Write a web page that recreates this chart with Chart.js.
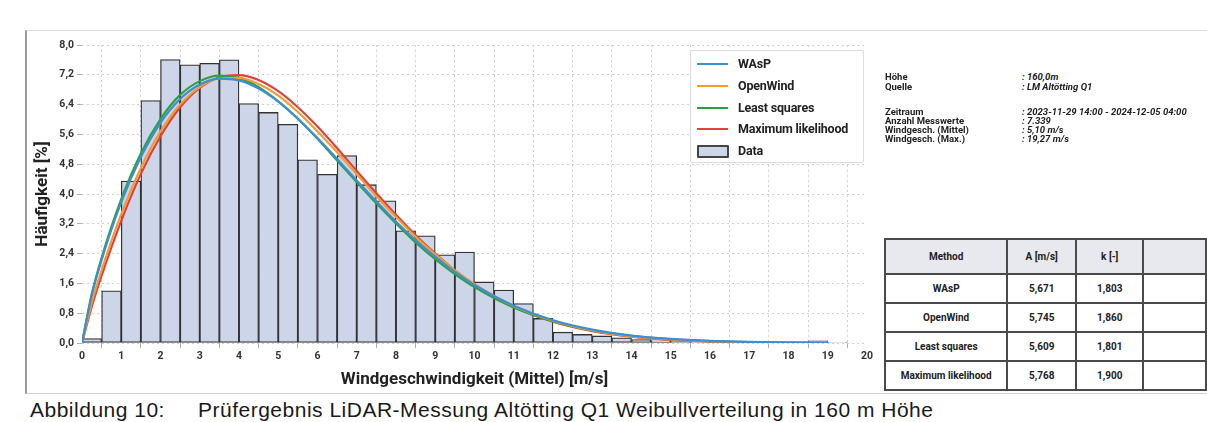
<!DOCTYPE html>
<html lang="de">
<head>
<meta charset="utf-8">
<title>Weibullverteilung Altötting Q1</title>
<script src="https://cdn.jsdelivr.net/npm/chart.js@4.4.0/dist/chart.umd.min.js"></script>
<style>
  html, body { margin: 0; padding: 0; background: #fff; }
  body { width: 1207px; height: 422px; position: relative; overflow: hidden; font-family: Roboto, "Noto Sans", sans-serif; }
  #frame { position: absolute; left: 25px; top: 30px; width: 1200px; height: 362px;
           border-left: 2px solid #9a9a9a; border-top: 1px solid #dcdcdc; border-bottom: 1px solid #cfcfcf; }
  #weibullChart { position: absolute; left: 30px; top: 35px; }
  #legend { position: absolute; left: 690px; top: 50px; width: 172px; height: 111px;
            border: 1px solid #dddddd; border-radius: 2px; background: #fff; }
  #legend .item { position: absolute; left: 6px; height: 16px; font-weight: bold; font-size: 12.5px; color: #222; }
  #legend .swatch { position: absolute; left: 0; top: 7px; width: 31px; height: 2px; }
  #legend .box { position: absolute; left: 0; top: 2px; width: 28px; height: 9px; background: #cdd5e8; border: 2px solid #444; border-radius: 1px; }
  #legend .label { position: absolute; left: 41px; top: 0; white-space: nowrap; letter-spacing: -0.2px; }
  .info { position: absolute; font-size: 9.5px; font-weight: bold; color: #222; white-space: nowrap; line-height: 10px; }
  .info.val { font-style: italic; }
  #params { position: absolute; left: 884px; top: 238px; border-collapse: collapse; }
  #params td, #params th { border: 2px solid #4a4a4a; font-size: 10px; font-weight: bold; color: #222; text-align: center; padding: 0; }
  #params th { background: #e8e9ee; height: 33px; }
  #params td { height: 27px; }
  .caption { position: absolute; top: 398px; font-family: "Liberation Sans", Arial, sans-serif; font-size: 21px; letter-spacing: 0.5px; color: #1a1a1a; white-space: nowrap; }
</style>
</head>
<body>
<div id="frame"></div>
<canvas id="weibullChart" width="845" height="357"></canvas>

<div id="legend">
  <div class="item" style="top:5px"><span class="swatch" style="background:#3b8fd4"></span><span class="label">WAsP</span></div>
  <div class="item" style="top:27px"><span class="swatch" style="background:#f59b2f"></span><span class="label">OpenWind</span></div>
  <div class="item" style="top:49px"><span class="swatch" style="background:#2ea043"></span><span class="label">Least squares</span></div>
  <div class="item" style="top:70px"><span class="swatch" style="background:#e0413a"></span><span class="label">Maximum likelihood</span></div>
  <div class="item" style="top:92px"><span class="box"></span><span class="label">Data</span></div>
</div>

<div class="info" style="left:885px;top:72px">Höhe</div>
<div class="info val" style="left:1022px;top:72px">: 160,0m</div>
<div class="info" style="left:885px;top:82px">Quelle</div>
<div class="info val" style="left:1022px;top:82px">: LM Altötting Q1</div>
<div class="info" style="left:885px;top:107px">Zeitraum</div>
<div class="info val" style="left:1022px;top:107px">: 2023-11-29 14:00 - 2024-12-05 04:00</div>
<div class="info" style="left:885px;top:116px">Anzahl Messwerte</div>
<div class="info val" style="left:1022px;top:116px">: 7.339</div>
<div class="info" style="left:885px;top:125px">Windgesch. (Mittel)</div>
<div class="info val" style="left:1022px;top:125px">: 5,10 m/s</div>
<div class="info" style="left:885px;top:134px">Windgesch. (Max.)</div>
<div class="info val" style="left:1022px;top:134px">: 19,27 m/s</div>

<table id="params">
  <thead><tr><th style="width:144px">Method</th><th style="width:80px">A [m/s]</th><th style="width:78px">k [-]</th><th style="width:80px"></th></tr></thead>
  <tbody id="paramRows"></tbody>
</table>

<div class="caption" style="left:30px">Abbildung 10:</div>
<div class="caption" style="left:198px">Prüfergebnis LiDAR-Messung Altötting Q1 Weibullverteilung in 160 m Höhe</div>

<script>
// histogram bins (centre of each 0,5 m/s bin) and measured frequency [%]
const binCenters = [0.25, 0.75, 1.25, 1.75, 2.25, 2.75, 3.25, 3.75, 4.25, 4.75,
                    5.25, 5.75, 6.25, 6.75, 7.25, 7.75, 8.25, 8.75, 9.25, 9.75,
                    10.25, 10.75, 11.25, 11.75, 12.25, 12.75, 13.25, 13.75, 14.25, 14.75,
                    15.25, 15.75, 16.25, 16.75, 17.25, 17.75, 18.25, 18.75, 19.25];
const frequency = [0.12, 1.40, 4.35, 6.51, 7.61, 7.47, 7.51, 7.60, 6.43, 6.19,
                   5.87, 4.92, 4.53, 5.03, 4.25, 3.82, 3.01, 2.88, 2.37, 2.44,
                   1.64, 1.42, 1.06, 0.66, 0.29, 0.23, 0.19, 0.14, 0.09, 0.06,
                   0.04, 0.03, 0.02, 0.02, 0.01, 0.03, 0.01, 0.06, 0.01];

// fitted curves
const curveX = [0, 0.25, 0.5, 1, 1.5, 2, 2.5, 3, 3.5, 4, 4.5, 5, 5.5, 6, 6.5, 7, 7.5, 8, 8.5, 9, 9.5, 10,
                11, 12, 13, 14, 15, 16, 17, 18, 19];
const wasp     = [0, 1.29, 2.23, 3.78, 4.99, 5.91, 6.55, 6.94, 7.10, 7.05, 6.83, 6.48, 6.02, 5.50, 4.94, 4.36,
                  3.80, 3.26, 2.76, 2.31, 1.91, 1.55, 1.00, 0.61, 0.36, 0.20, 0.11, 0.056, 0.028, 0.013, 0.006];
const openWind = [0, 1.09, 1.96, 3.46, 4.70, 5.68, 6.40, 6.87, 7.10, 7.12, 6.95, 6.64, 6.20, 5.68, 5.12, 4.53,
                  3.94, 3.38, 2.85, 2.38, 1.95, 1.58, 0.99, 0.60, 0.34, 0.18, 0.095, 0.047, 0.022, 0.010, 0.004];
const leastSq  = [0, 1.32, 2.29, 3.86, 5.09, 6.01, 6.66, 7.03, 7.18, 7.11, 6.87, 6.49, 6.02, 5.48, 4.90, 4.32,
                  3.75, 3.21, 2.70, 2.25, 1.85, 1.50, 0.95, 0.58, 0.34, 0.19, 0.099, 0.050, 0.025, 0.012, 0.005];
const maxLik   = [0, 0.98, 1.81, 3.28, 4.54, 5.55, 6.33, 6.85, 7.13, 7.19, 7.06, 6.76, 6.33, 5.81, 5.23, 4.62,
                  4.02, 3.44, 2.89, 2.40, 1.95, 1.57, 0.97, 0.57, 0.32, 0.17, 0.083, 0.040, 0.018, 0.008, 0.003];

// parameter table
const methods = ['WAsP', 'OpenWind', 'Least squares', 'Maximum likelihood'];
const scaleA  = ['5,671', '5,745', '5,609', '5,768'];
const shapeK  = ['1,803', '1,860', '1,801', '1,900'];

const rows = document.getElementById('paramRows');
methods.forEach((m, i) => {
    const tr = document.createElement('tr');
    [m, scaleA[i], shapeK[i], ''].forEach(t => {
        const td = document.createElement('td');
        td.textContent = t;
        tr.appendChild(td);
    });
    rows.appendChild(tr);
});

const pts = (xs, ys) => xs.map((x, i) => ({x: x, y: ys[i]}));
const lineSet = (label, values, color) => ({
    type: 'line',
    label: label,
    data: pts(curveX, values),
    borderColor: color,
    borderWidth: 2.2,
    pointRadius: 0,
    cubicInterpolationMode: 'monotone',
    order: 1
});

const tickFont = {family: 'Roboto', size: 10.5, weight: 'bold'};
const titleFont = {family: 'Roboto', size: 17, weight: 'bold'};

const ctx = document.getElementById('weibullChart').getContext('2d');
const weibullChart = new Chart(ctx, {
    type: 'bar',
    data: {
        datasets: [
            lineSet('WAsP', wasp, '#3b8fd4'),
            lineSet('OpenWind', openWind, '#f59b2f'),
            lineSet('Least squares', leastSq, '#2ea043'),
            lineSet('Maximum likelihood', maxLik, '#e0413a'),
            {
                type: 'bar',
                label: 'Data',
                data: pts(binCenters, frequency),
                backgroundColor: '#cdd5e8',
                borderColor: '#333333',
                borderWidth: 1.3,
                borderSkipped: false,
                barPercentage: 1,
                categoryPercentage: 1,
                order: 2
            }
        ]
    },
    options: {
        responsive: false,
        animation: false,
        layout: {padding: {top: 10, right: 5}},
        plugins: {legend: {display: false}, tooltip: {enabled: false}},
        scales: {
            x: {
                type: 'linear',
                min: 0,
                max: 20,
                offset: false,
                ticks: {stepSize: 1, font: tickFont, color: '#333', padding: 2},
                grid: {color: '#cfcfcf', tickLength: 5, tickColor: '#b0b0b0'},
                border: {display: false, dash: [2, 3]},
                title: {display: true, text: 'Windgeschwindigkeit (Mittel) [m/s]', font: titleFont, color: '#222', padding: {top: 2, bottom: 2}},
                afterFit: s => { s.height = 49; }
            },
            y: {
                min: 0,
                max: 8,
                ticks: {stepSize: 0.8, font: tickFont, color: '#333', padding: 3,
                        callback: v => v.toFixed(1).replace('.', ',')},
                grid: {color: '#cfcfcf', tickLength: 5, tickColor: '#b0b0b0'},
                border: {display: false, dash: [2, 3]},
                title: {display: true, text: 'Häufigkeit [%]', font: titleFont, color: '#222', padding: {top: 3, bottom: 2}},
                afterFit: s => { s.width = 52; }
            }
        }
    }
});
</script>
</body>
</html>
